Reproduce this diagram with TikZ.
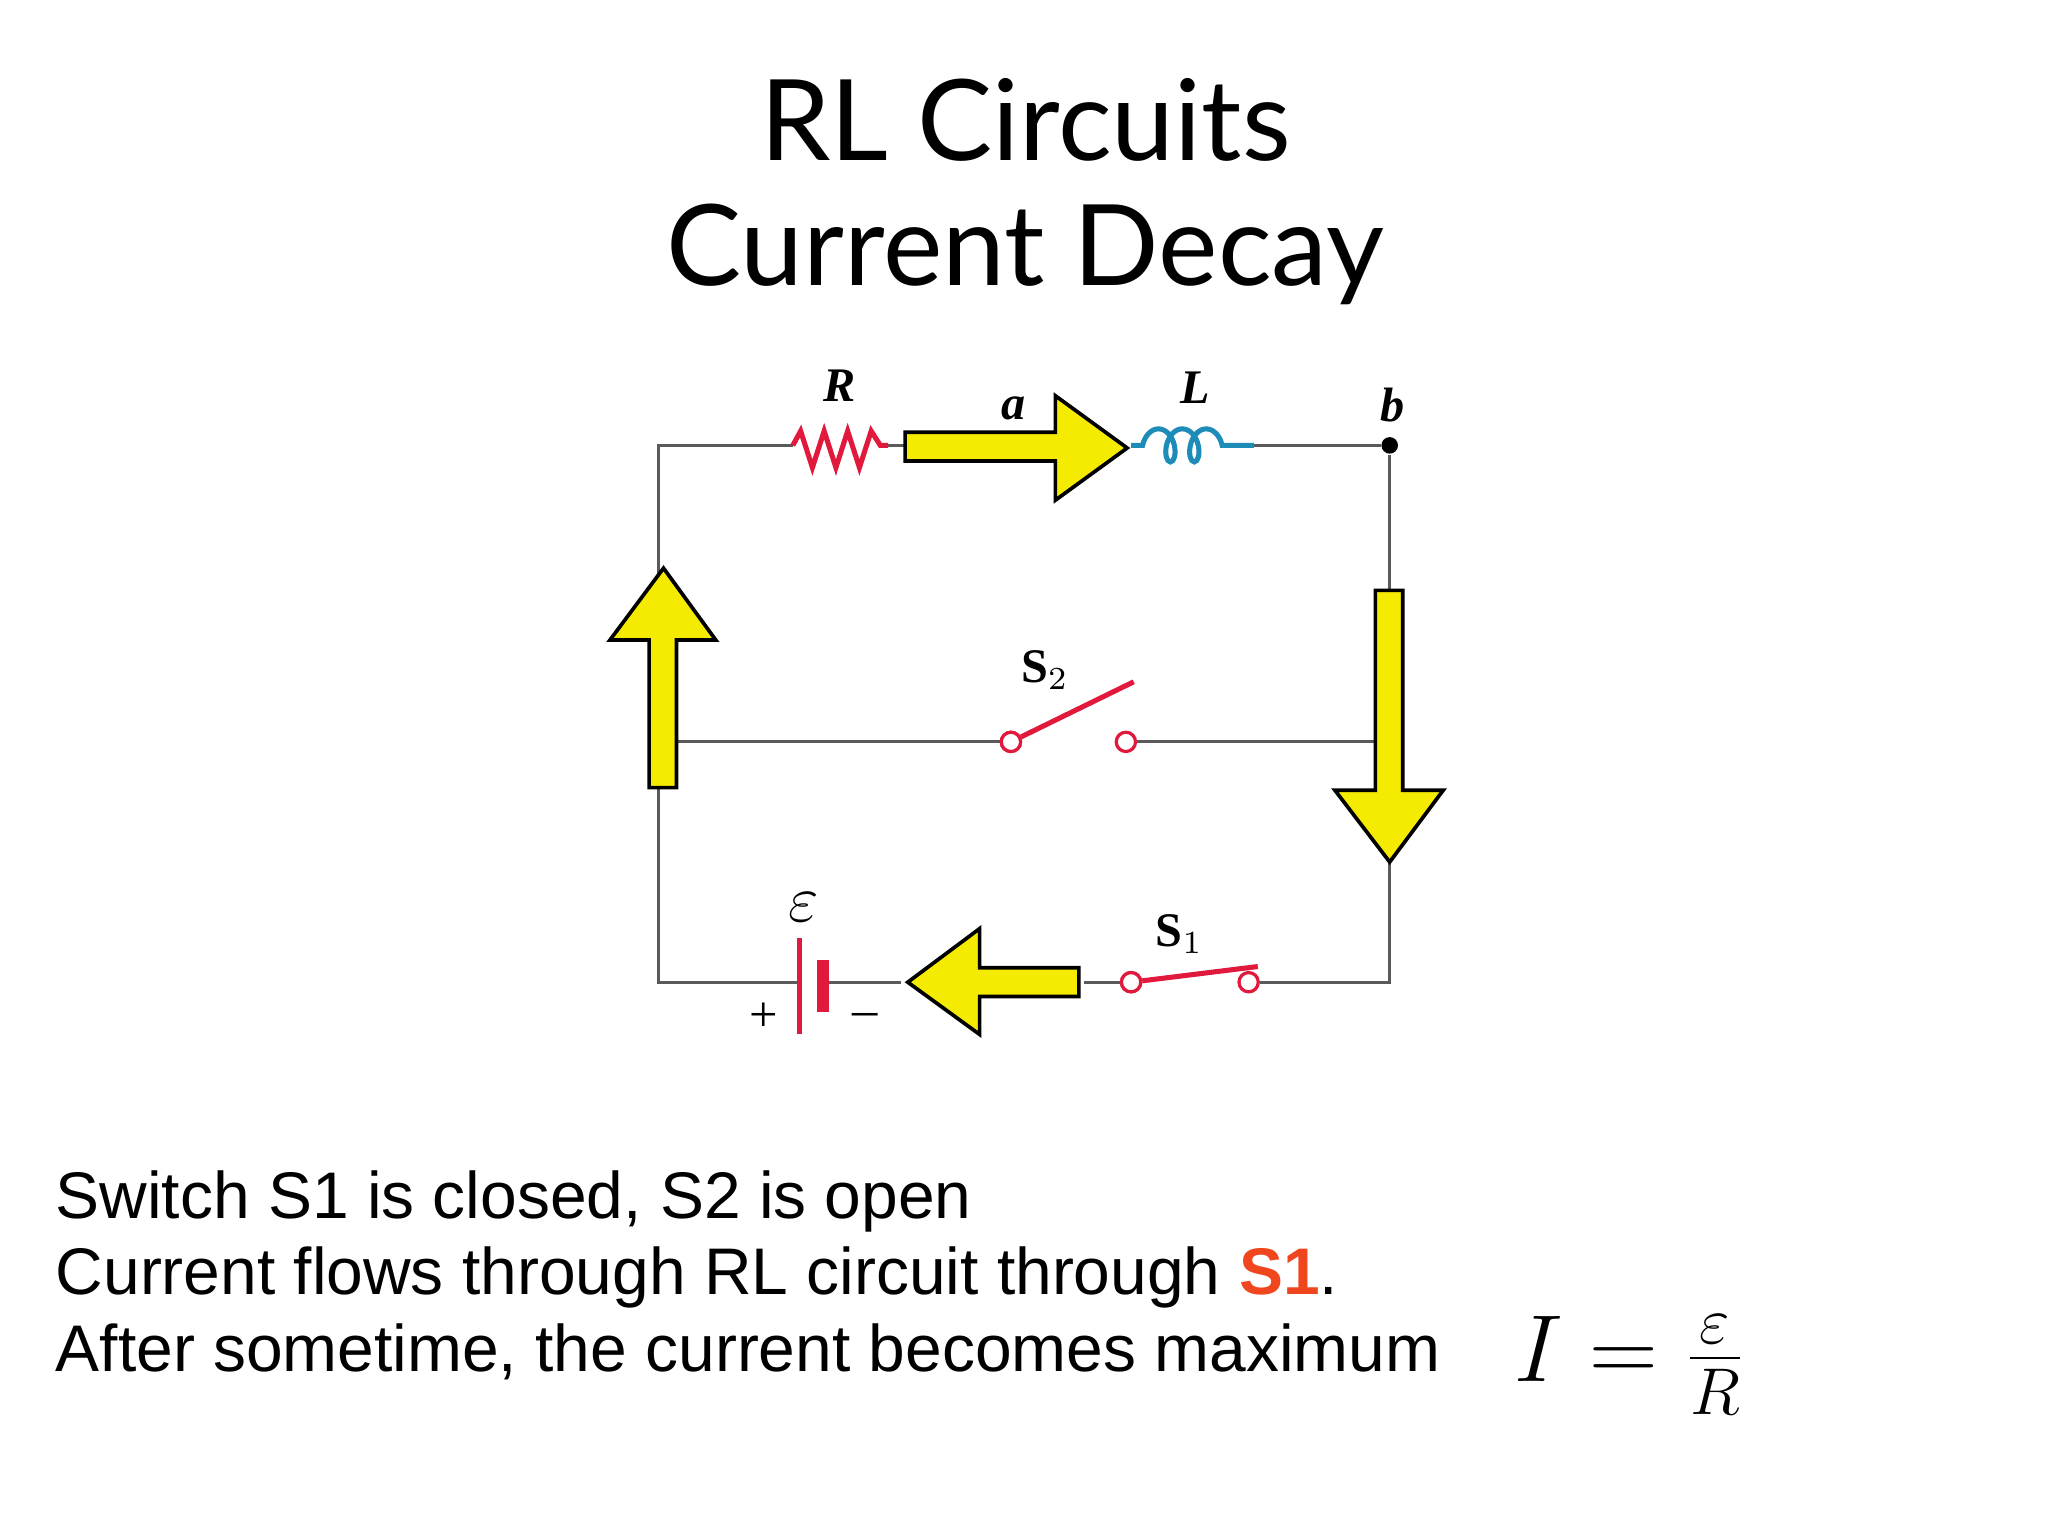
\documentclass[tikz,border=0pt]{standalone}
\usepackage{fontspec}
\setmainfont{Lato}
\newfontfamily\arial{Liberation Sans}
\newfontfamily\tms{Liberation Serif}
\usetikzlibrary{decorations.pathmorphing}
\definecolor{wire}{RGB}{90,90,90}
\definecolor{resred}{RGB}{225,25,60}
\definecolor{coilblue}{RGB}{30,140,185}
\definecolor{hot}{RGB}{240,70,30}
\definecolor{flow}{RGB}{245,235,0}
\tikzset{
  w/.style={draw=wire,line width=0.6pt},
  term/.style={circle,draw=resred,line width=0.7pt,fill=white,inner sep=0pt,minimum size=4.2pt},
  lbl/.style={font=\tms\fontsize{10.5}{10.5}\selectfont\itshape\bfseries},
  sw/.style={font=\tms\fontsize{10.5}{10.5}\selectfont\bfseries},
  fl/.style={fill=flow,draw=black,line width=0.8pt,line join=miter},
  txt/.style={font=\arial\fontsize{14.35}{14.35}\selectfont,anchor=base west,inner sep=0pt}
}
\begin{document}
\begin{tikzpicture}[x=0.01cm,y=-0.01cm]
\useasboundingbox (0,0) rectangle (1568,1176);
% title
\node[font=\fontsize{24.5}{24.5}\selectfont] (t1) at (785,92) {RL Circuits};
\node[font=\fontsize{24.5}{24.5}\selectfont] (t2) at (785,195) {Current Decay};
% corners
\coordinate (tl) at (504,341); \coordinate (tr) at (1064,341);
\coordinate (bl) at (504,752); \coordinate (br) at (1064,752);
\coordinate (ml) at (504,568); \coordinate (mr) at (1064,568);
\coordinate (r1) at (607,341); \coordinate (r2) at (680,341);
\coordinate (l1) at (866,341); \coordinate (l2) at (960,341);
\coordinate (e1) at (612,752); \coordinate (e2) at (630,752);
\node[term] (s2a) at (774,568) {}; \node[term] (s2b) at (862,568) {};
\node[term] (s1a) at (866,752) {}; \node[term] (s1b) at (956,752) {};
\node[circle,fill=black,inner sep=0pt,minimum size=3.6pt] (b) at (tr) {};
% wires
\draw[w] (r1) -- (tl) -- (bl) -- (e1);
\draw[w] (r2) -- (700,341);
\draw[w] (l2) -- (b) -- (br) -- (s1b);
\draw[w] (e2) -- (690,752);
\draw[w] (830,752) -- (s1a);
\draw[w] (ml) -- (s2a); \draw[w] (s2b) -- (mr);
% resistor
\draw[resred,line width=1.1pt,line join=miter] (r1) -- (613,330) -- (622,358) -- (631,330) -- (640,358) -- (649,330) -- (658,358) -- (667,330) -- (674,341) -- (r2);
% inductor
\draw[coilblue,line width=1.1pt,decorate,decoration={coil,aspect=0.6,segment length=5.2pt,amplitude=3.6pt,pre length=2.5pt,post length=2.5pt}] (l1) -- (l2);
% battery
\draw[resred,line width=1.1pt] (612,718) -- (612,792);
\draw[resred,line width=2.6pt] (630,735) -- (630,775);
% switches
\draw[resred,line width=1.1pt] (s2a) -- (868,522);
\draw[resred,line width=1.1pt] (s1a) -- (963,740);
\node[term] at (774,568) {}; \node[term] at (866,752) {};
% labels
\node[lbl] at (643,295) {R};
\node[lbl] at (776,313) {a};
\node[lbl] at (915,297) {L};
\node[lbl] at (1066,310) {b};
\node[font=\fontsize{14}{14}\selectfont] at (615,695) {$\varepsilon$};
\node[font=\tms\fontsize{11}{11}\selectfont] at (585,779) {+};
\node[font=\tms\fontsize{11}{11}\selectfont] at (662,781) {\char"2013};
\node[sw] at (800,513) {S$_2$};
\node[sw] at (903,715) {S$_1$};
% current arrows
\draw[fl] (693,331) -- (808,331) -- (808,303) -- (863,343) -- (808,383) -- (808,353) -- (693,353) -- cycle;
\draw[fl] (1053,452) -- (1053,605) -- (1022,605) -- (1064,660) -- (1105,605) -- (1074,605) -- (1074,452) -- cycle;
\draw[fl] (497,603) -- (497,490) -- (467,490) -- (508,435) -- (548,490) -- (518,490) -- (518,603) -- cycle;
\draw[fl] (826,741) -- (750,741) -- (750,711) -- (695,752) -- (750,792) -- (750,763) -- (826,763) -- cycle;
% text
\node[txt] (x1) at (42,933) {Switch S1 is closed, S2 is open};
\node[txt] (x2) at (42,991) {Current flows through RL circuit through {\color{hot}\bfseries S1}.};
\node[txt] (x3) at (42,1050) {After sometime, the current becomes maximum};
\node[font=\fontsize{20}{20}\selectfont] (eq) at (1248,1045) {$I=\frac{\varepsilon}{R}$};
\end{tikzpicture}
\end{document}
